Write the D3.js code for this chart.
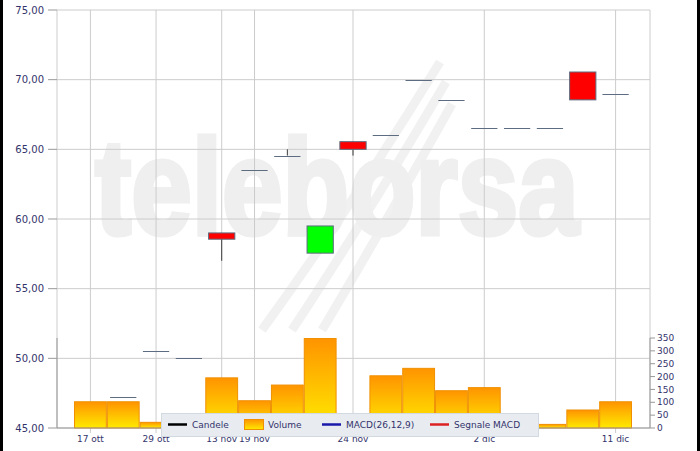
<!DOCTYPE html>
<html>
<head>
<meta charset="utf-8">
<script src="https://cdn.jsdelivr.net/npm/d3@7"></script>
<style>
  body { margin: 0; background: #fff; }
  svg { display: block; font-family: "DejaVu Sans", Verdana, sans-serif; }
</style>
</head>
<body>
<svg id="chart" width="700" height="451"></svg>
<script>
// dati
const dates = ["17 ott", "22 ott", "29 ott", "6 nov", "13 nov", "19 nov", "20 nov", "21 nov", "24 nov",
    "25 nov", "27 nov", "28 nov", "2 dic", "4 dic", "5 dic", "9 dic", "11 dic"];
const tickDates = ["17 ott", "29 ott", "13 nov", "19 nov", "24 nov", "2 dic", "11 dic"];
const openV  = [null, 47.2, 50.55, 50.0, 59.0, 63.55, 64.55, 57.55, 65.55, 66.0, 70.0, 68.55, 66.55, 66.55, 66.55, 70.55, 69.0];
const closeV = [null, 47.2, 50.55, 50.0, 58.55, 63.55, 64.55, 59.5, 65.0, 66.0, 70.0, 68.55, 66.55, 66.55, 66.55, 68.55, 69.0];
const highV  = [null, 47.2, 50.55, 50.0, 59.0, 63.55, 65.0, 59.5, 65.55, 66.0, 70.0, 68.55, 66.55, 66.55, 66.55, 70.55, 69.0];
const lowV   = [null, 47.2, 50.55, 50.0, 57.0, 63.55, 64.55, 57.55, 64.55, 66.0, 70.0, 68.55, 66.55, 66.55, 66.55, 68.55, 69.0];
const volume = [102, 102, 22, 15, 195, 106, 167, 348, 20, 203, 232, 145, 157, 15, 14, 70, 102];
const priceTicks = [45, 50, 55, 60, 65, 70, 75];
const volTicks = [0, 50, 100, 150, 200, 250, 300, 350];
const legendItems = ["Candele", "Volume", "MACD(26,12,9)", "Segnale MACD"];

let svg = d3.select("#chart");
let pLeft = 57, pRight = 650, pTop = 10, pBottom = 428;
let navy = "#33336b";

let x = d3.scaleBand().domain(dates).range([74, 632]).padding(0);
let y = d3.scaleLinear().domain([45, 75]).range([pBottom, pTop]);
let yVol = d3.scaleLinear().domain([0, 350]).range([pBottom, 338]);

let defs = svg.append("defs");
let grad = defs.append("linearGradient").attr("id", "volGrad")
    .attr("x1", 0).attr("y1", 0).attr("x2", 0).attr("y2", 1);
grad.append("stop").attr("offset", "0%").attr("stop-color", "#ff9400");
grad.append("stop").attr("offset", "100%").attr("stop-color", "#ffea00");

// bordi neri
svg.append("rect").attr("x", 0).attr("y", 0).attr("width", 3).attr("height", 451).attr("fill", "#000");
svg.append("rect").attr("x", 697).attr("y", 0).attr("width", 3).attr("height", 451).attr("fill", "#000");

// watermark
let wm = svg.append("g");
wm.append("path")
    .attr("fill", "none").attr("stroke", "#f1f1f1").attr("stroke-width", 9)
    .attr("d", "M262,330 C320,250 380,160 440,62 M292,330 C345,250 400,160 446,82 M322,330 C370,250 415,170 452,104");
wm.append("text")
    .attr("transform", "translate(95,234) scale(0.8,1)")
    .attr("fill", "#efefef").attr("stroke", "#efefef").attr("stroke-width", 5)
    .style("font-family", "'Liberation Sans', Arial, sans-serif")
    .style("font-weight", "bold")
    .style("font-size", "136px")
    .text("teleborsa");

// griglia orizzontale
svg.append("g").selectAll("line")
    .data(priceTicks)
    .enter().append("line")
    .attr("x1", pLeft).attr("x2", pRight)
    .attr("y1", d => y(d)).attr("y2", d => y(d))
    .attr("stroke", "#cccccc");

// griglia verticale
svg.append("g").selectAll("line")
    .data(tickDates)
    .enter().append("line")
    .attr("x1", d => x(d) + x.bandwidth() / 2).attr("x2", d => x(d) + x.bandwidth() / 2)
    .attr("y1", pTop).attr("y2", pBottom + 5)
    .attr("stroke", "#cccccc");

svg.append("line").attr("x1", pLeft).attr("x2", pLeft).attr("y1", pTop).attr("y2", pBottom).attr("stroke", "#cccccc");
svg.append("line").attr("x1", pRight).attr("x2", pRight).attr("y1", pTop).attr("y2", pBottom).attr("stroke", "#cccccc");
svg.append("line").attr("x1", pLeft).attr("x2", pLeft).attr("y1", 338).attr("y2", pBottom).attr("stroke", "#999999");

// volumi
svg.append("g").selectAll("rect")
    .data(volume)
    .enter().append("rect")
    .attr("x", (d, i) => x(dates[i]) + 0.5)
    .attr("width", x.bandwidth() - 1)
    .attr("y", d => yVol(d))
    .attr("height", d => pBottom - yVol(d))
    .attr("fill", "url(#volGrad)")
    .attr("stroke", "#f09000")
    .attr("stroke-width", 1);

// candele
let candles = dates.map(function (d, i) {
    return {date: d, o: openV[i], c: closeV[i], h: highV[i], l: lowV[i]};
}).filter(d => d.o != null);

let cw = x.bandwidth() * 0.8;
let cg = svg.append("g").selectAll("g")
    .data(candles)
    .enter().append("g");

cg.append("line")
    .attr("x1", d => x(d.date) + x.bandwidth() / 2).attr("x2", d => x(d.date) + x.bandwidth() / 2)
    .attr("y1", d => y(d.h)).attr("y2", d => y(d.l))
    .attr("stroke", "#3a3a3a");

// corpo pieno
cg.filter(d => d.o != d.c).append("rect")
    .attr("x", d => x(d.date) + (x.bandwidth() - cw) / 2)
    .attr("width", cw)
    .attr("y", d => y(Math.max(d.o, d.c)))
    .attr("height", d => y(Math.min(d.o, d.c)) - y(Math.max(d.o, d.c)))
    .attr("fill", d => d.c > d.o ? "#00ff00" : "#ff0000")
    .attr("stroke", "#5d6c80")
    .attr("stroke-width", 1);

// doji (apertura = chiusura)
cg.filter(d => d.o == d.c).append("line")
    .attr("x1", d => x(d.date) + (x.bandwidth() - cw) / 2)
    .attr("x2", d => x(d.date) + (x.bandwidth() + cw) / 2)
    .attr("y1", d => Math.round(y(d.o)) + 0.5).attr("y2", d => Math.round(y(d.o)) + 0.5)
    .attr("stroke", "#5d6c80")
    .attr("stroke-width", 1);

// asse sinistro
let yl = svg.append("g").style("font-size", "10px").attr("fill", navy);
yl.selectAll("line").data(priceTicks).enter().append("line")
    .attr("x1", 48).attr("x2", pLeft)
    .attr("y1", d => y(d)).attr("y2", d => y(d))
    .attr("stroke", "#999999");
yl.selectAll("text").data(priceTicks).enter().append("text")
    .attr("x", 44).attr("y", d => y(d)).attr("dy", "0.35em")
    .attr("text-anchor", "end")
    .text(d => d3.format(".2f")(d).replace(".", ","));

// asse destro (volumi)
let yr = svg.append("g").style("font-size", "9px").attr("fill", navy);
yr.append("line").attr("x1", pRight).attr("x2", pRight).attr("y1", 338).attr("y2", pBottom).attr("stroke", "#999999");
yr.selectAll("line.t").data(volTicks).enter().append("line").attr("class", "t")
    .attr("x1", pRight).attr("x2", pRight + 5)
    .attr("y1", d => yVol(d)).attr("y2", d => yVol(d))
    .attr("stroke", "#999999");
yr.selectAll("text").data(volTicks).enter().append("text")
    .attr("x", pRight + 7).attr("y", d => yVol(d)).attr("dy", "0.35em")
    .text(d => d);

// asse x
svg.append("line").attr("x1", pLeft).attr("x2", pRight).attr("y1", pBottom).attr("y2", pBottom).attr("stroke", "#999999");
svg.append("g").style("font-size", "9px").attr("fill", navy)
    .selectAll("text").data(tickDates).enter().append("text")
    .attr("x", d => x(d) + x.bandwidth() / 2).attr("y", 442)
    .attr("text-anchor", "middle")
    .text(d => d);

// legenda
let lg = svg.append("g");
lg.append("rect").attr("x", 161.5).attr("y", 413.5).attr("width", 377).attr("height", 23)
    .attr("fill", "#e8ecf1").attr("stroke", "#d3d9e1");
let lx = [168, 244, 322, 430];
let lcol = ["#000000", null, "#1a1aaa", "#dd2222"];
legendItems.forEach(function (t, i) {
    if (lcol[i]) {
        lg.append("line").attr("x1", lx[i]).attr("x2", lx[i] + 19)
            .attr("y1", 424.5).attr("y2", 424.5)
            .attr("stroke", lcol[i]).attr("stroke-width", 2.5);
    } else {
        lg.append("rect").attr("x", lx[i] + 0.5).attr("y", 419.5).attr("width", 19).attr("height", 10)
            .attr("fill", "url(#volGrad)").attr("stroke", "#f09000");
    }
    lg.append("text").attr("x", lx[i] + 24).attr("y", 425).attr("dy", "0.35em")
        .style("font-size", "9px").attr("fill", navy).text(t);
});
</script>
</body>
</html>
